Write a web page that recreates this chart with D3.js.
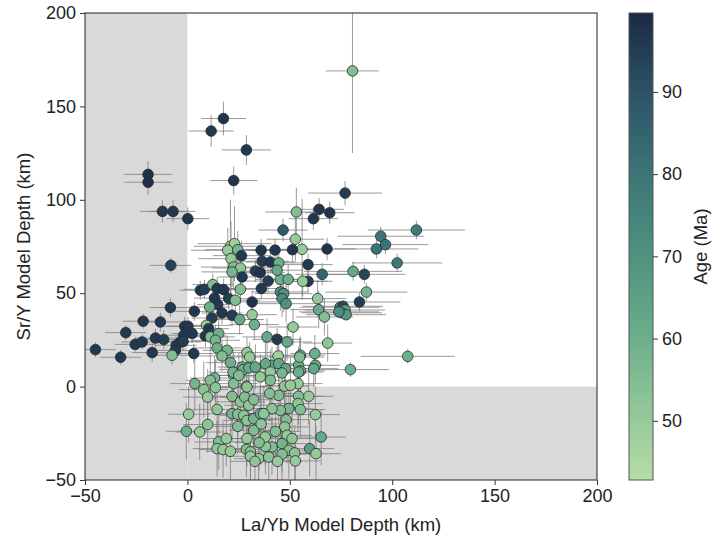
<!DOCTYPE html>
<html>
<head>
<meta charset="utf-8">
<script src="https://cdn.jsdelivr.net/npm/d3@7"></script>
<style>
  body { margin: 0; background: #fff; }
  text { font-family: "Liberation Sans", Arial, Helvetica, sans-serif; fill: #222; }
</style>
</head>
<body>
<svg id="chart" width="713" height="540"></svg>
<script>
// each point: [La/Yb depth, Sr/Y depth, La/Yb err, Sr/Y err, age Ma]
var upperPts = [
  [80.6,169,13,44,55], [17.6,143.5,11,9,97], [11.6,136.8,11,8.5,96], [28.8,126.7,12,8,96],
  [22.6,110.3,11.5,7.5,97], [-19.2,113.6,11.5,7,98], [-19.2,109.4,11.5,7,98],
  [-12.2,93.8,11,6,96], [-7,93.8,11,6,96], [0.2,89.9,10.5,6,97], [77,103.6,18,6.5,95],
  [53.2,93.5,15,13,55], [64.3,94.9,12,6,97], [61.5,89.9,12,6,96], [69.5,93.1,12,6,97],
  [46.7,83.8,12,6,88], [52.7,78.9,14,12,50], [56,73.5,14,27,50], [36,73,13,6,97],
  [42.8,73.1,13,6,96], [51.3,73.3,14,7,97], [68.2,73.7,14,6,97], [111.8,83.8,23.7,5,78],
  [94.4,80.5,21,5,80], [96.7,76,21,5,80], [92.3,73.7,20.5,5,80], [102.4,66.2,22,5,79],
  [-8.1,64.9,10,4,94]
];

var middlePts = [
  [21,75.1,18,25,50], [23,76.5,18,20,48], [19.7,73,18,12,50], [24.6,73.3,16,10,58],
  [26.4,70.1,14,8,96], [21.3,68.5,16,20,50], [36.5,67.1,13,6,95], [22.6,64,16,12,55],
  [25.9,63.5,14,10,52], [21.8,61.4,15,8,58], [26.7,58.7,12,6,96], [33.2,61.9,12,6,95],
  [35.6,61,12,6,97], [40.5,66.7,12,6,96], [44.6,66.2,12,6,60], [58.9,65.3,12,6,96],
  [65.8,60.1,13,6,85], [58.9,56.4,12,6,96], [39.4,56.5,12,6,95], [45.4,57.4,12,8,60],
  [49.2,57.4,12,8,60], [56.3,56.4,12,8,50], [43.8,62.3,12,8,62], [45.4,50.7,14,10,72],
  [47,49.8,14,10,70], [46.2,47.1,14,10,72], [48.2,44.4,14,10,70], [63.6,47.1,14,10,50],
  [64.1,41.2,14,10,62], [66.9,37.3,14,10,55], [74.5,42.5,19.5,3,75], [76,43,19.5,3,92],
  [77,41,19.5,3,65], [75.5,39.5,19.5,3,62], [77.5,38.5,19.5,3,68], [74,40,19.5,3,72],
  [80.9,61.7,24,5,62], [86.4,60.1,20,5,93], [87.4,50.6,20,5,58], [84,45.3,20,5,95],
  [107.6,16.2,23,4,60], [79.6,9.1,18.7,4,60]
];

var leftPts = [
  [6.3,51.6,10,5,96], [8.3,52.1,10,5,95], [12.4,54.6,10,6,55], [14.5,52.5,10,6,96],
  [17.7,51.9,10,6,96], [25.9,52.1,12,8,55], [36.1,52.5,12,6,96], [13.3,47.4,10,6,96],
  [14.8,43.9,10,6,96], [10.9,42.6,10,6,60], [20.2,47.1,10,6,95], [23.4,46.2,12,8,55],
  [31.6,45.3,12,6,97], [-8.3,42.3,10,5,96], [3.4,40.3,10,5,96], [12,36.7,10,6,95],
  [16.9,39.4,10,6,96], [21.8,38.2,12,6,95], [25.5,35.9,12,8,62], [31.6,38.5,12,8,50],
  [32.7,33.2,12,8,60], [-13.2,34.6,10,5,96], [-1.3,32.3,10,5,97], [0.3,32.3,10,5,96],
  [2.3,28.4,10,5,96], [-1.8,27.5,10,5,96], [9.3,32.8,12,8,50], [10.4,31,10,6,96],
  [8.8,27.1,10,6,96], [11.2,26.6,12,8,55], [15.3,28.4,12,8,60], [13.7,24.8,12,8,58],
  [-15.6,26,10,5,96], [-11.6,25.2,10,5,95], [-3.4,23.9,10,5,96], [-17.2,18.2,10,5,96],
  [-5.5,22.1,10,5,96], [-5.9,19.4,10,5,96], [-7.5,16.8,10,5,55], [3.1,17.7,10,5,96],
  [14.5,20.7,12,8,60], [19.4,19.4,12,8,58], [16.9,16.4,12,8,55], [21,12.8,12,8,60],
  [29.1,18.2,12,8,50], [30.4,15.8,12,8,50], [26.7,10.5,12,8,60], [-44.9,19.8,10,4,96],
  [-32.6,15.7,10,4,96], [-30.1,28.9,10,4,96], [-25.5,22.6,10,4,96], [-22.1,23.9,10,4,96],
  [-21.6,35,10,4,96], [-2.1,24.2,10,5,95]
];

var centralPts = [
  [51.6,31.9,12,10,50], [68.5,23.3,12,10,52], [38.9,26.6,12,10,62], [43.8,25.3,12,6,96],
  [48.7,23.9,12,10,62], [62.2,17.7,12,10,60], [55.2,16.8,12,10,60], [44.3,16.4,12,10,48],
  [62.5,11.4,12,10,62], [41.3,11.4,12,10,62], [44.6,12.3,12,10,62], [54.3,11.4,12,10,60],
  [13.3,4.6,12,12,58], [22.6,6,12,12,55], [27.2,9.1,12,12,60], [30,10,12,12,62],
  [33.2,10.5,12,12,62], [35.6,5.2,12,12,50], [38.1,12.3,12,12,62], [47.9,9.6,12,12,62],
  [40.5,7.8,12,12,50], [55.2,8.4,12,12,60], [61.7,9.6,12,10,62], [54.8,15.8,12,10,55]
];

var lowerPts = [
  [3.6,1.6,12,15,58], [8,-1.6,12,15,52], [11.2,3.4,12,15,55], [13.7,-0.5,12,15,52],
  [9.9,-5.6,12,15,50], [0.6,-14.8,10,15,50], [14.5,-12.2,12,15,52], [9.9,-20.3,12,15,52],
  [6,-24.3,12,15,50], [-0.5,-23.9,10,15,60], [15.3,-29.6,12,15,55], [19,-27.8,12,15,50],
  [14.5,-33.2,12,15,52], [17.4,-33.7,12,15,50], [21,-34.6,12,15,50], [21.8,-5.2,12,15,55],
  [22.6,1.6,12,15,55], [25.9,-8.2,12,15,52], [28.8,0.2,12,15,50], [28,-5.6,12,15,55],
  [30,-10,12,15,52], [21.8,-14.5,12,15,58], [24.6,-14.8,12,15,55], [27.5,-15.4,12,15,52],
  [24.6,-21.3,12,15,55], [29.1,-18.1,12,15,52], [32.4,-17.2,12,15,58], [32.4,-23.4,12,15,55],
  [29.1,-27.8,12,15,50], [28.8,-33.6,12,15,55], [30.8,-35,12,15,52], [34.8,-38.6,12,15,50],
  [30.8,-37.3,12,15,50], [22.3,7.7,12,12,58], [25.1,6,12,12,55], [35.6,-14.5,12,15,62],
  [62.5,-15,12,15,50], [65.3,-27,12,15,62], [59.7,-33.2,12,15,66], [62.8,-35.9,12,15,50],
  [59.2,-5.2,12,15,50], [54.3,-5.2,12,15,55], [54,-9.1,12,15,52], [55.2,-12.3,12,15,55],
  [54,1.6,12,15,50], [47.4,0.2,12,15,52], [50.3,0.7,12,15,50], [44.6,-4.7,12,15,55],
  [49.5,-11.8,12,15,58], [45.4,-12.7,12,15,55], [41.3,-11.8,12,15,52], [48.2,-17.7,12,15,55],
  [47.5,-21.6,12,15,52], [48.7,-26.1,12,15,50], [51.1,-27.8,12,15,52], [46.2,-30.5,12,15,58],
  [41.3,-32.3,12,15,55], [38.1,-32,12,15,52], [49.5,-34.1,12,15,55], [52.4,-35.5,12,15,52],
  [46.2,-36.2,12,15,55], [52.7,-39.8,12,15,50], [39.7,-37.7,12,15,52], [40.5,3.4,12,12,55],
  [46.2,7.3,12,12,58], [54.3,7.8,12,12,60], [29.1,-0.2,12,15,52], [32.4,-7,12,15,55],
  [37.3,-14.5,12,15,52], [40.2,-3.7,12,15,55], [36,-20,12,15,52], [43,-24,12,15,55],
  [38,-27,12,15,50], [35,-30,12,15,55], [44,-40,12,15,50], [33,-40,12,15,52]
];

var xTicks = [-50, 0, 50, 100, 150, 200];
var yTicks = [-50, 0, 50, 100, 150, 200];
var ageTicks = [50, 60, 70, 80, 90];
var ageStops = [42.8, 50, 60, 70, 80, 90, 99.6];
var ageColors = ["#b7dca7", "#97ca9a", "#6caf8b", "#4e927f", "#3c7576", "#2c5367", "#1b2a43"];

var svg = d3.select("#chart");
var plotLeft = 85, plotTop = 13, plotW = 512, plotH = 467;

var x = d3.scaleLinear().domain([-50, 200]).range([plotLeft, plotLeft + plotW]);
var y = d3.scaleLinear().domain([-50, 200]).range([plotTop + plotH, plotTop]);
var color = d3.scaleLinear().domain(ageStops).range(ageColors).clamp(true);

// shaded regions
svg.append("rect").attr("x", x(-50)).attr("y", y(200))
  .attr("width", x(0) - x(-50)).attr("height", y(-50) - y(200)).attr("fill", "#d9d9d9");
svg.append("rect").attr("x", x(0)).attr("y", y(0))
  .attr("width", x(200) - x(0)).attr("height", y(-50) - y(0)).attr("fill", "#d9d9d9");

var data = upperPts.concat(middlePts, leftPts, centralPts, lowerPts);

svg.append("clipPath").attr("id", "clip").append("rect")
  .attr("x", plotLeft).attr("y", plotTop).attr("width", plotW).attr("height", plotH);

var bars = svg.append("g").attr("clip-path", "url(#clip)")
  .attr("stroke", "#7a7a7a").attr("stroke-opacity", 0.75).attr("stroke-width", 1);

bars.selectAll("line.h").data(data).enter().append("line")
  .attr("x1", function(d) { return x(d[0] - d[2]); })
  .attr("x2", function(d) { return x(d[0] + d[2]); })
  .attr("y1", function(d) { return y(d[1]); })
  .attr("y2", function(d) { return y(d[1]); });

bars.selectAll("line.v").data(data).enter().append("line")
  .attr("x1", function(d) { return x(d[0]); })
  .attr("x2", function(d) { return x(d[0]); })
  .attr("y1", function(d) { return y(d[1] - d[3]); })
  .attr("y2", function(d) { return y(d[1] + d[3]); });

svg.append("g").attr("clip-path", "url(#clip)")
  .selectAll("circle").data(data).enter().append("circle")
  .attr("cx", function(d) { return x(d[0]); })
  .attr("cy", function(d) { return y(d[1]); })
  .attr("r", 5.3)
  .attr("fill", function(d) { return color(d[4]); })
  .attr("stroke", "#2a2a2a").attr("stroke-width", 0.8);

// axes
var fmt = function(d) { return d < 0 ? "\u2212" + Math.abs(d) : d; };
var xAxis = svg.append("g").attr("transform", "translate(0," + (plotTop + plotH) + ")")
  .call(d3.axisBottom(x).tickValues(xTicks).tickFormat(fmt).tickSize(5).tickPadding(4));
var yAxis = svg.append("g").attr("transform", "translate(" + plotLeft + ",0)")
  .call(d3.axisLeft(y).tickValues(yTicks).tickFormat(fmt).tickSize(5).tickPadding(4));
[xAxis, yAxis].forEach(function(a) {
  a.select(".domain").remove();
  a.selectAll("line").attr("stroke", "#333");
  a.selectAll("text").style("font-size", "18px").attr("fill", "#222");
});

svg.append("rect").attr("x", plotLeft).attr("y", plotTop).attr("width", plotW).attr("height", plotH)
  .attr("fill", "none").attr("stroke", "#444").attr("stroke-width", 1.2);

svg.append("text").attr("x", plotLeft + plotW / 2).attr("y", 531)
  .attr("text-anchor", "middle").style("font-size", "18.5px").text("La/Yb Model Depth (km)");
svg.append("text").attr("transform", "translate(30," + (plotTop + plotH / 2) + ") rotate(-90)")
  .attr("text-anchor", "middle").style("font-size", "18.5px").text("Sr/Y Model Depth (km)");

// colorbar
var cbX = 629, cbW = 24;
var cy = d3.scaleLinear().domain([ageStops[0], ageStops[ageStops.length - 1]]).range([plotTop + plotH, plotTop]);
var grad = svg.append("defs").append("linearGradient").attr("id", "agegrad")
  .attr("x1", 0).attr("y1", 1).attr("x2", 0).attr("y2", 0);
d3.range(0, 1.0001, 0.05).forEach(function(t) {
  var a = cy.domain()[0] + t * (cy.domain()[1] - cy.domain()[0]);
  grad.append("stop").attr("offset", t).attr("stop-color", color(a));
});
svg.append("rect").attr("x", cbX).attr("y", plotTop).attr("width", cbW).attr("height", plotH)
  .attr("fill", "url(#agegrad)").attr("stroke", "#555").attr("stroke-width", 1);
var cAxis = svg.append("g").attr("transform", "translate(" + (cbX + cbW) + ",0)")
  .call(d3.axisRight(cy).tickValues(ageTicks).tickSize(5).tickPadding(4));
cAxis.select(".domain").remove();
cAxis.selectAll("line").attr("stroke", "#333");
cAxis.selectAll("text").style("font-size", "18px").attr("fill", "#222");

svg.append("text").attr("transform", "translate(707," + (plotTop + plotH / 2) + ") rotate(-90)")
  .attr("text-anchor", "middle").style("font-size", "18.5px").text("Age (Ma)");
</script>
</body>
</html>
